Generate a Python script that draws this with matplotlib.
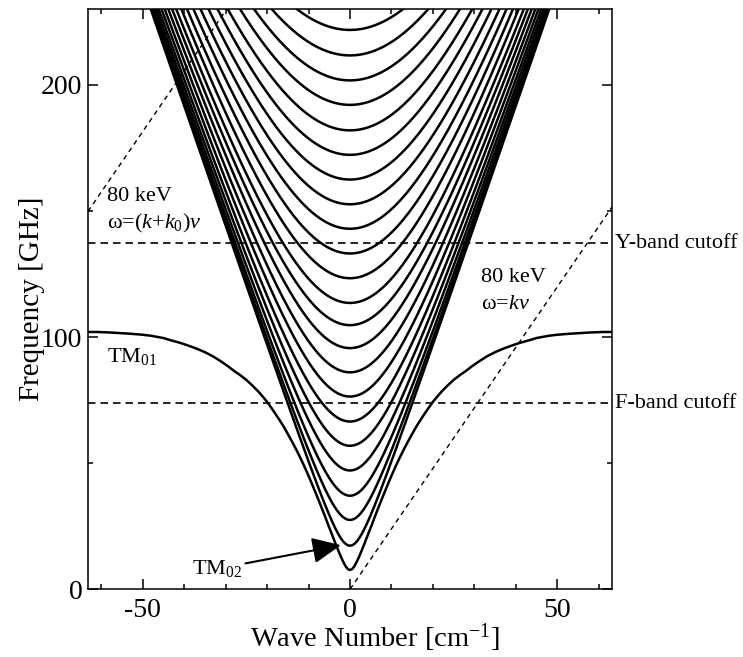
import numpy as np
import matplotlib
matplotlib.use("Agg")
import matplotlib.pyplot as plt

plt.rcParams['font.family'] = ['Liberation Serif', 'DejaVu Serif']
plt.rcParams['mathtext.fontset'] = 'custom'
plt.rcParams['mathtext.rm'] = 'Liberation Serif'
plt.rcParams['mathtext.it'] = 'Liberation Serif:italic'
plt.rcParams['axes.unicode_minus'] = False

# cutoff frequencies of the higher TM0n modes [GHz]
f_cut = [17.3, 27.5, 37.1, 47.1, 56.9, 66.5, 76.4, 86.0, 95.6, 104.7, 113.5,
         123.3, 133.1, 142.9, 152.6, 162.4, 172.2, 181.9, 192.0, 201.7, 211.6,
         221.7]

# TM01 branch (k <= 0), mirrored for k > 0
k_tm01 = np.array([-63.2, -61, -58, -56, -53, -50, -48, -45, -43, -41, -39, -37,
                   -35, -33, -31, -29.5, -28, -26.5, -25, -23.5, -22, -21, -20,
                   -19, -18, -17, -16, -15, -14, -13, -12, -11, -10, -9, -8, -7,
                   -6, -5.2, -4.5, -3.7, -3, -2.5, -2, -1.5, -1, -0.5, 0])
f_tm01 = np.array([102.0, 102.0, 101.8, 101.6, 101.3, 100.9, 100.5, 99.6, 98.6,
                   97.7, 96.6, 95.4, 94.0, 92.3, 90.2, 88.5, 86.6, 84.9, 83.0,
                   80.7, 78.2, 76.3, 74.3, 72.0, 69.6, 67.1, 64.5, 61.6, 58.6,
                   55.5, 52.2, 48.7, 45.0, 41.1, 37.1, 33.0, 28.8, 25.3, 22.4,
                   19.0, 16.1, 14.1, 12.2, 10.5, 9.0, 8.0, 7.66])

f_F = 73.8    # F-band cutoff
f_Y = 137.2   # Y-band cutoff
beta = 0.5025  # 80 keV electrons
period = 0.05  # cm
c_2pi = 29.979 / (2 * np.pi)  # GHz cm

k0 = 2 * np.pi / period
kmax = 63.2

fig = plt.figure(figsize=(7.43, 6.57), dpi=100)
ax = fig.add_axes([0.1184, 0.1030, 0.7053, 0.8833])

k = np.linspace(-kmax, kmax, 801)
for fc in f_cut:
    ax.plot(k, np.sqrt(fc**2 + (c_2pi * k)**2), color='k', lw=1.8, zorder=3)

kk = np.concatenate([k_tm01, -k_tm01[::-1][1:]])
ff = np.concatenate([f_tm01, f_tm01[::-1][1:]])
ax.plot(kk, ff, color='k', lw=1.8, zorder=3, solid_joinstyle='round')

# cutoff lines
ax.axhline(f_F, color='k', lw=1.2, ls=(0, (4.5, 3)), zorder=2)
ax.axhline(f_Y, color='k', lw=1.2, ls=(0, (4.5, 3)), zorder=2)

# beam lines
kb = np.array([0, kmax])
ax.plot(kb, beta * c_2pi * kb, color='k', lw=1.0, ls=(0, (3.5, 3)), zorder=1)
kb2 = np.array([-kmax, 0])
ax.plot(kb2, beta * c_2pi * (kb2 + k0), color='k', lw=1.0, ls=(0, (3.5, 3)), zorder=1)

ax.set_xlim(-kmax, kmax)
ax.set_ylim(0, 230)
ax.set_xticks([-50, 0, 50])
ax.set_xticks(np.arange(-60, 61, 10), minor=True)
ax.set_yticks([0, 100, 200])
ax.set_yticks([50, 150], minor=True)
ax.tick_params(which='both', direction='in', top=True, right=True, width=1.1,
               labelsize=20)
ax.tick_params(which='major', length=7)
ax.tick_params(which='minor', length=3.5)
ax.tick_params(axis='x', pad=6)
ax.tick_params(axis='y', pad=4)
for s in ax.spines.values():
    s.set_linewidth(1.1)

ax.set_xlabel('Wave Number [cm$^{-1}$]', fontsize=20.5)
ax.set_ylabel('Frequency [GHz]', fontsize=21)
ax.xaxis.set_label_coords(0.548, -0.056)
ax.yaxis.set_label_coords(-0.082, 0.5)

fs = 16
ax.text(1.005, f_Y, 'Y-band cutoff', transform=ax.get_yaxis_transform(),
        fontsize=fs, va='center', ha='left')
ax.text(1.005, f_F, 'F-band cutoff', transform=ax.get_yaxis_transform(),
        fontsize=fs, va='center', ha='left')
ax.text(-58.5, 154, '80 keV', fontsize=fs)
ax.text(-58.5, 143, 'ω=($k$+$k_0$)$v$', fontsize=fs)
ax.text(31.5, 122, '80 keV', fontsize=fs)
ax.text(31.5, 111, 'ω=$kv$', fontsize=fs)
ax.text(-58.5, 90, 'TM$_{01}$', fontsize=fs)
ax.annotate('TM$_{02}$', xy=(-2.2, 17.5), xytext=(-38, 4), fontsize=fs,
            arrowprops=dict(arrowstyle='-|>,head_length=1.1,head_width=0.5',
                            color='k', lw=1.5, shrinkA=0, shrinkB=0),
            va='bottom', ha='left')

fig.savefig('out.png', dpi=100)
